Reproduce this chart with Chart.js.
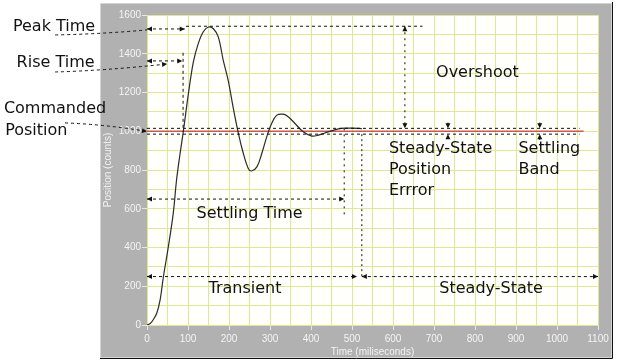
<!DOCTYPE html>
<html>
<head>
<meta charset="utf-8">
<script src="https://cdn.jsdelivr.net/npm/chart.js@4.4.0/dist/chart.umd.min.js"></script>
<style>
  html, body { margin: 0; padding: 0; background: #fff; }
</style>
</head>
<body>
<canvas id="stepChart" width="620" height="363"></canvas>
<script>
// measured step response (ms, counts)
const timeMs = [0, 8, 16, 24, 32, 40, 52, 64, 72, 80, 89, 101, 113, 125, 137, 150, 162, 174, 186, 198, 210, 223, 235, 247, 255, 268, 280, 292, 304, 316, 332, 345, 361, 381, 402, 418, 442, 467, 483, 500, 524];
const position = [0, 8, 30, 62, 130, 249, 403, 576, 747, 875, 1005, 1194, 1357, 1452, 1512, 1538, 1529, 1486, 1366, 1263, 1125, 988, 885, 808, 795, 816, 885, 971, 1040, 1082, 1088, 1074, 1040, 997, 975, 980, 997, 1012, 1016, 1016, 1014];

// commanded position
const commandTime = [0, 1065];
const commandPos = [1000, 1000];

// tick labels
const xTickLabels = ['0', '100', '200', '300', '400', '500', '600', '700', '800', '900', '1000', '1100'];
const yTickLabels = ['0', '200', '400', '600', '800', '1000', '1200', '1400', '1600'];

// guide lines in data units [ms, counts]; heads: s = start arrow, e = end arrow
const guideLines = [
    { pts: [[0, 1015], [1055, 1015]] },
    { pts: [[0, 985], [1055, 985]] },
    { pts: [[0, 1528], [92, 1528]], heads: 'se' },
    { pts: [[95, 1542], [672, 1542]] },
    { pts: [[629, 1542], [629, 1015]], heads: 'se', dash: [2, 4] },
    { pts: [[0, 1363], [86, 1363]], heads: 'se' },
    { pts: [[88, 1405], [88, 1000]] },
    { pts: [[0, 650], [481, 650]], heads: 'se' },
    { pts: [[481, 1015], [481, 557]], dash: [2, 4] },
    { pts: [[0, 250], [512, 250]], heads: 'se' },
    { pts: [[524, 250], [1100, 250]], heads: 'se' },
    { pts: [[524, 985], [524, 250]], dash: [2, 3] },
    { pts: [[734, 1045], [734, 1015]], heads: 'e' },
    { pts: [[734, 960], [734, 985]], heads: 'e' },
    { pts: [[958, 1045], [958, 1015]], heads: 'e' },
    { pts: [[958, 955], [958, 985]], heads: 'e' },
    // leaders from the left-hand labels
    { pts: [[-224, 1497], [-110, 1502], [0, 1523]] },
    { pts: [[-224, 1306], [-110, 1312], [49, 1347]], heads: 'e' },
    { pts: [[-200, 1043], [-100, 1035], [0, 999]], heads: 'e' }
];

const labelText = ['Peak Time', 'Rise Time', 'Commanded', 'Position', 'Overshoot',
    'Steady-State', 'Position', 'Errror', 'Settling', 'Band',
    'Settling Time', 'Transient', 'Steady-State'];
const labelAt = [[-327, 1515], [-318, 1334], [-349, 1094], [-346, 981], [705, 1282],
    [590, 890], [590, 780], [590, 671], [906, 890], [906, 780],
    [121, 553], [150, 165], [713, 165]];

const framePlugin = {
    id: 'frame',
    beforeDraw(chart) {
        const c = chart.ctx, a = chart.chartArea;
        c.save();
        c.fillStyle = '#ffffff';
        c.fillRect(0, 0, chart.width, chart.height);
        // grey panel
        c.fillStyle = '#b1b1b1';
        c.fillRect(100, 3, 512, 355);
        c.strokeStyle = '#d4d4d4';
        c.lineWidth = 1;
        c.strokeRect(100.5, 3.5, 511, 354);
        c.strokeStyle = '#111';
        c.beginPath();
        c.moveTo(612.5, 2); c.lineTo(612.5, 358.5); c.lineTo(100, 358.5);
        c.stroke();
        // plot background
        c.fillStyle = '#fffffb';
        c.fillRect(a.left, a.top, a.right - a.left, a.bottom - a.top);
        c.restore();
    }
};

function arrowHead(c, x, y, fx, fy) {
    const ang = Math.atan2(y - fy, x - fx);
    c.save();
    c.translate(x, y);
    c.rotate(ang);
    c.beginPath();
    c.moveTo(0, 0);
    c.lineTo(-5, -2.5);
    c.lineTo(-5, 2.5);
    c.closePath();
    c.fill();
    c.restore();
}

const notesPlugin = {
    id: 'notes',
    afterDatasetsDraw(chart) {
        const c = chart.ctx;
        const xs = chart.scales.x, ys = chart.scales.y;
        const px = p => [xs.getPixelForValue(p[0]), ys.getPixelForValue(p[1])];
        c.save();
        c.strokeStyle = '#111';
        c.fillStyle = '#111';
        c.lineWidth = 1;
        guideLines.forEach(g => {
            const pts = g.pts.map(px);
            c.setLineDash(g.dash || [3, 3]);
            c.beginPath();
            c.moveTo(pts[0][0], pts[0][1]);
            if (pts.length === 3) {
                c.quadraticCurveTo(pts[1][0], pts[1][1], pts[2][0], pts[2][1]);
            } else {
                c.lineTo(pts[1][0], pts[1][1]);
            }
            c.stroke();
            c.setLineDash([]);
            const h = g.heads || '';
            const n = pts.length;
            if (h.includes('s')) arrowHead(c, pts[0][0], pts[0][1], pts[1][0], pts[1][1]);
            if (h.includes('e')) arrowHead(c, pts[n - 1][0], pts[n - 1][1], pts[n - 2][0], pts[n - 2][1]);
        });
        c.font = '16px "DejaVu Sans"';
        c.textBaseline = 'alphabetic';
        c.textAlign = 'left';
        labelText.forEach((t, i) => {
            const p = px(labelAt[i]);
            c.fillText(t, p[0], p[1]);
        });
        c.restore();
    }
};

const ctx = document.getElementById('stepChart').getContext('2d');
new Chart(ctx, {
    type: 'line',
    data: {
        datasets: [{
            data: timeMs.map((t, i) => ({ x: t, y: position[i] })),
            borderColor: '#2b2b2b',
            borderWidth: 1.2,
            pointRadius: 0,
            tension: 0.35,
            order: 1
        }, {
            data: commandTime.map((t, i) => ({ x: t, y: commandPos[i] })),
            borderColor: '#c9584e',
            borderWidth: 1.5,
            pointRadius: 0,
            order: 2
        }]
    },
    options: {
        responsive: false,
        animation: false,
        devicePixelRatio: 1,
        layout: { padding: { left: 100, top: 15, right: 22, bottom: 4 } },
        plugins: { legend: { display: false }, tooltip: { enabled: false } },
        scales: {
            x: {
                type: 'linear', min: 0, max: 1100,
                afterFit: s => { s.height = 34; },
                border: { display: false },
                grid: {
                    color: '#dfe696',
                    tickLength: 5,
                    tickColor: c => (xTickLabels.includes(String(c.tick.value)) ? '#e6e6e6' : 'rgba(0,0,0,0)')
                },
                ticks: {
                    stepSize: 50, autoSkip: false, maxRotation: 0, padding: 3,
                    color: '#f4f4f4',
                    font: { family: 'Liberation Sans', size: 10 },
                    callback: v => (xTickLabels.includes(String(v)) ? String(v) : '')
                },
                title: {
                    display: true, text: 'Time (miliseconds)', color: '#f2f2f2',
                    font: { family: 'Liberation Sans', size: 10 },
                    padding: { top: 0, bottom: 1 }
                }
            },
            y: {
                type: 'linear', min: 0, max: 1600,
                afterFit: s => { s.width = 47; },
                border: { display: false },
                grid: {
                    color: '#dfe696',
                    tickLength: 5,
                    tickColor: c => (yTickLabels.includes(String(c.tick.value)) ? '#e6e6e6' : 'rgba(0,0,0,0)')
                },
                ticks: {
                    stepSize: 100, autoSkip: false, padding: 1,
                    color: '#f4f4f4',
                    font: { family: 'Liberation Sans', size: 10 },
                    callback: v => (yTickLabels.includes(String(v)) ? String(v) : '')
                },
                title: {
                    display: true, text: 'Position (counts)', color: '#f2f2f2',
                    font: { family: 'Liberation Sans', size: 10 },
                    padding: { top: 2, bottom: 0 }
                }
            }
        }
    },
    plugins: [framePlugin, notesPlugin]
});
</script>
</body>
</html>
